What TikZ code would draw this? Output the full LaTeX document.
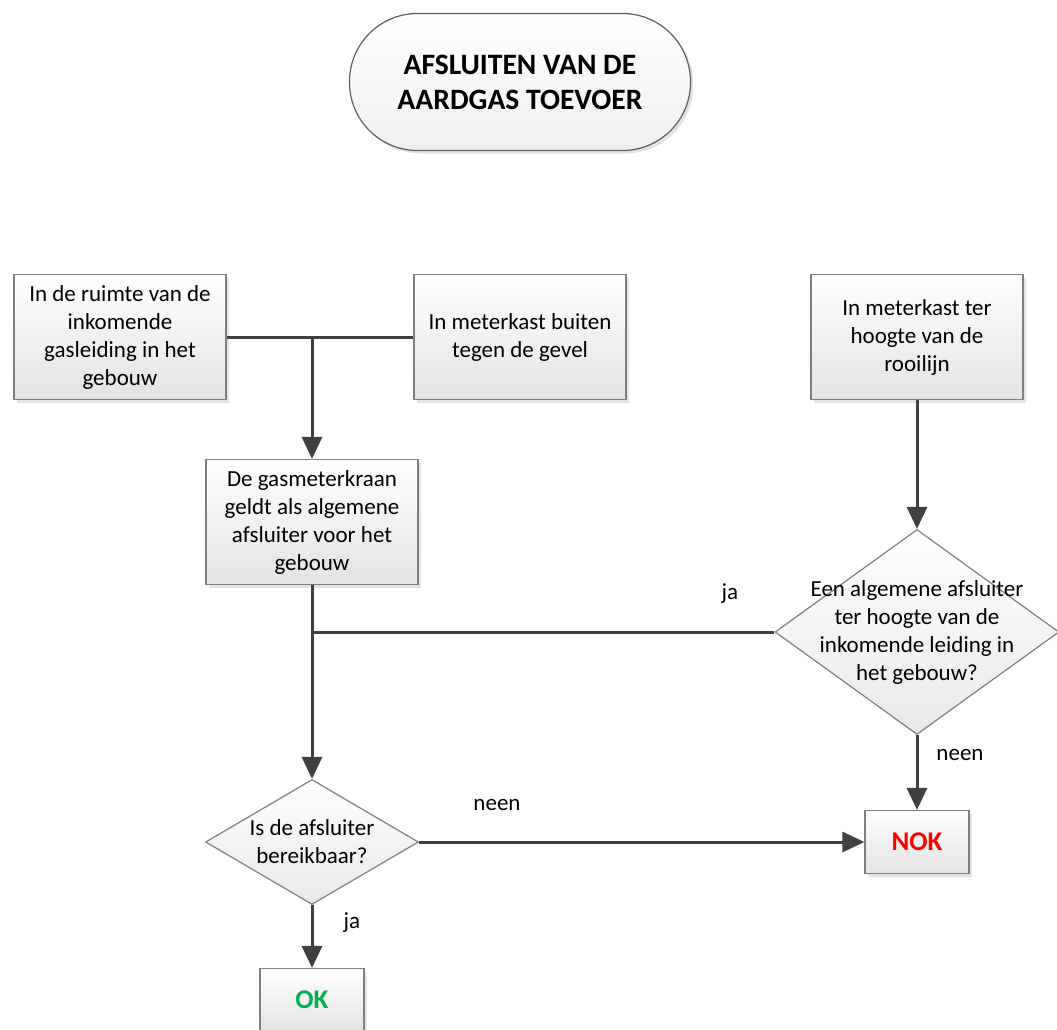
\documentclass[tikz,border=0pt]{standalone}
\usepackage{fontspec}
\setmainfont{Carlito}
\usetikzlibrary{shapes.geometric,arrows.meta,shadows}
\definecolor{linegray}{HTML}{404040}
\definecolor{boxline}{HTML}{7F7F7F}
\definecolor{nokred}{HTML}{FF0000}
\definecolor{okgreen}{HTML}{00B050}
\newcommand{\boxfont}{\fontsize{11.5}{14}\selectfont}

\begin{document}
\begin{tikzpicture}[
  x=0.5pt, y=-0.5pt,
  softshadow/.style={drop shadow={opacity=0.22, shadow xshift=1.5pt, shadow yshift=-1.5pt}},
  startstop/.style={rectangle, rounded corners=34pt, draw=linegray!85, line width=0.6pt, top color=white, bottom color=black!6, softshadow, align=center, inner sep=0pt, minimum width=170.5pt, minimum height=68.5pt, font=\fontsize{14.8}{17.5}\selectfont\bfseries},
  procbox/.style={rectangle, draw=boxline, line width=0.6pt, top color=white, bottom color=black!11, softshadow, align=center, inner sep=0pt, minimum width=106pt, minimum height=62.5pt, font=\boxfont},
  endbox/.style={procbox, minimum width=52pt, minimum height=31.5pt, font=\fontsize{13.5}{16}\selectfont\bfseries},
  decision/.style={diamond, draw=boxline, line width=0.6pt, top color=white, bottom color=black!9, inner sep=0pt},
  qtext/.style={font=\boxfont, align=center},
  edge/.style={draw=linegray, line width=1.5pt},
  flow/.style={edge, -{Triangle[length=11pt,width=10pt]}},
  lbl/.style={font=\boxfont, text=black}
]
  \useasboundingbox (0,0) rectangle (1057,1030);

  % Titel
  \node[startstop] (title) at (520,82) {AFSLUITEN VAN DE\\AARDGAS TOEVOER};

  % Plaats van de meter
  \node[procbox] (ruimte) at (120,337) {In de ruimte van de\\inkomende\\gasleiding in het\\gebouw};
  \node[procbox] (buiten) at (520,337) {In meterkast buiten\\tegen de gevel};
  \node[procbox] (rooilijn) at (917,337) {In meterkast ter\\hoogte van de\\rooilijn};
  \node[procbox] (kraan) at (312,522) {De gasmeterkraan\\geldt als algemene\\afsluiter voor het\\gebouw};

  % Vragen
  \node[decision, minimum width=142pt, minimum height=102.5pt,
    label={[qtext]center:{Een algemene afsluiter\\ter hoogte van de\\inkomende leiding in\\het gebouw?}}] (algemeen) at (917,632) {};
  \node[decision, minimum width=106.5pt, minimum height=62.5pt,
    label={[qtext]center:{Is de afsluiter\\bereikbaar?}}] (bereik) at (312,842) {};

  % Uitkomsten
  \node[endbox, text=nokred] (nok) at (917,842) {NOK};
  \node[endbox, text=okgreen] (ok) at (312,1000) {OK};

  \coordinate (samen) at (312,337);
  \coordinate (jahoog) at (312,632);

  % Verbindingen
  \draw[edge] (ruimte.east) -- (buiten.west);
  \draw[flow] (samen) -- (kraan.north);
  \draw[flow] (kraan.south) -- (bereik.north);
  \draw[edge] (algemeen.west) -- (jahoog);
  \draw[flow] (rooilijn.south) -- (algemeen.north);
  \draw[flow] (algemeen.south) -- (nok.north);
  \draw[flow] (bereik.east) -- (nok.west);
  \draw[flow] (bereik.south) -- (ok.north);

  % Labels
  \node[lbl] (lblja1) at (730,594) {ja};
  \node[lbl] (lblneen1) at (960,755) {neen};
  \node[lbl] (lblneen2) at (497,805) {neen};
  \node[lbl] (lblja2) at (352,923) {ja};
\end{tikzpicture}
\end{document}
